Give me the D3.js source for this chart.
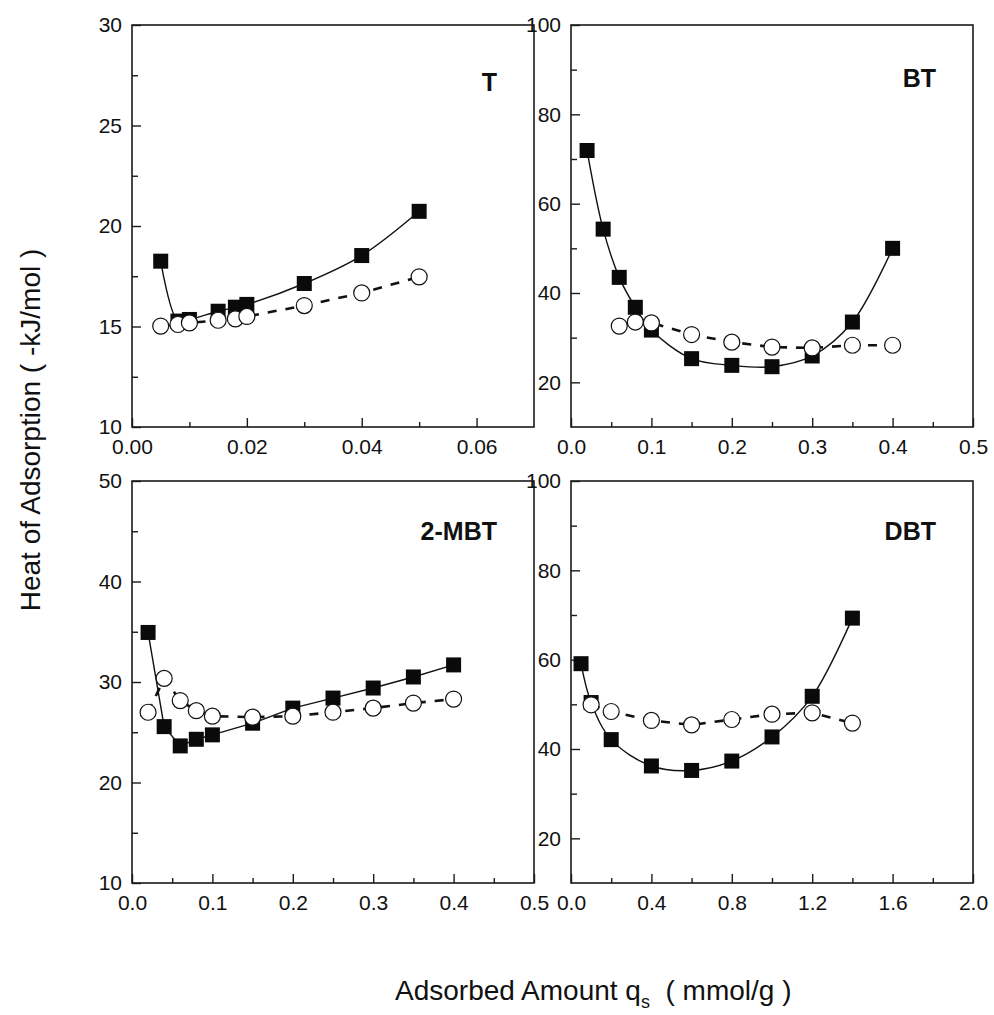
<!DOCTYPE html>
<html>
<head>
<meta charset="utf-8">
<script src="https://cdn.jsdelivr.net/npm/d3@7"></script>
<style>
  body { margin: 0; background: #fff; }
  svg { font-family: "Liberation Sans", Arial, sans-serif; }
  text { fill: #111; }
</style>
</head>
<body>
<svg id="svg" width="994" height="1015"></svg>
<script>
// T
const tX = [0.005, 0.008, 0.010, 0.015, 0.018, 0.020, 0.030, 0.040, 0.050]
const tSquare = [18.25, 15.27, 15.35, 15.76, 15.96, 16.1, 17.14, 18.53, 20.73]
const tCircleX = [0.005, 0.008, 0.010, 0.015, 0.018, 0.020, 0.030, 0.040, 0.050]
const tCircle = [15.02, 15.1, 15.18, 15.31, 15.38, 15.5, 16.04, 16.67, 17.47]

// BT
const btX = [0.02, 0.04, 0.06, 0.08, 0.10, 0.15, 0.20, 0.25, 0.30, 0.35, 0.40]
const btSquare = [71.9, 54.3, 43.5, 36.8, 31.7, 25.3, 23.8, 23.5, 25.9, 33.5, 50.0]
const btCircleX = [0.06, 0.08, 0.10, 0.15, 0.20, 0.25, 0.30, 0.35, 0.40]
const btCircle = [32.6, 33.5, 33.3, 30.7, 29.0, 27.9, 27.7, 28.3, 28.3]

// 2-MBT
const mbtX = [0.02, 0.04, 0.06, 0.08, 0.10, 0.15, 0.20, 0.25, 0.30, 0.35, 0.40]
const mbtSquare = [34.93, 25.56, 23.64, 24.3, 24.74, 25.9, 27.4, 28.4, 29.4, 30.5, 31.7]
const mbtCircleX = [0.02, 0.04, 0.06, 0.08, 0.10, 0.15, 0.20, 0.25, 0.30, 0.35, 0.40]
const mbtCircle = [26.99, 30.36, 28.15, 27.15, 26.6, 26.5, 26.6, 27.0, 27.4, 27.9, 28.3]

// DBT
const dbtX = [0.05, 0.1, 0.2, 0.4, 0.6, 0.8, 1.0, 1.2, 1.4]
const dbtSquare = [59.1, 50.4, 42.1, 36.2, 35.2, 37.3, 42.7, 51.8, 69.3]
const dbtCircleX = [0.1, 0.2, 0.4, 0.6, 0.8, 1.0, 1.2, 1.4]
const dbtCircle = [49.9, 48.4, 46.4, 45.4, 46.6, 47.8, 48.1, 45.8]

// axis ticks
const tXTicks = [0, 0.02, 0.04, 0.06]
const tXMinor = [0.01, 0.03, 0.05]
const tYTicks = [10, 15, 20, 25, 30]
const tYMinor = [12.5, 17.5, 22.5, 27.5]
const halfXTicks = [0, 0.1, 0.2, 0.3, 0.4, 0.5]
const halfXMinor = [0.05, 0.15, 0.25, 0.35, 0.45]
const hundredYTicks = [20, 40, 60, 80, 100]
const hundredYMinor = [30, 50, 70, 90]
const mbtYTicks = [10, 20, 30, 40, 50]
const mbtYMinor = [15, 25, 35, 45]
const dbtXTicks = [0, 0.4, 0.8, 1.2, 1.6, 2.0]
const dbtXMinor = [0.2, 0.6, 1.0, 1.4, 1.8]

const panels = [
  { name: 'T', left: 132, top: 25, xDomain: [0, 0.07], yDomain: [10, 30],
    xTicks: tXTicks, xMinor: tXMinor, xFmt: '.2f', yTicks: tYTicks, yMinor: tYMinor,
    sx: tX, sy: tSquare, cx: tCircleX, cy: tCircle, smooth: true, labelDy: 66 },
  { name: 'BT', left: 571, top: 25, xDomain: [0, 0.5], yDomain: [10, 100],
    xTicks: halfXTicks, xMinor: halfXMinor, xFmt: '.1f', yTicks: hundredYTicks, yMinor: hundredYMinor,
    sx: btX, sy: btSquare, cx: btCircleX, cy: btCircle, smooth: true, labelDy: 62 },
  { name: '2-MBT', left: 132, top: 481, xDomain: [0, 0.5], yDomain: [10, 50],
    xTicks: halfXTicks, xMinor: halfXMinor, xFmt: '.1f', yTicks: mbtYTicks, yMinor: mbtYMinor,
    sx: mbtX, sy: mbtSquare, cx: mbtCircleX, cy: mbtCircle, smooth: false, labelDy: 59 },
  { name: 'DBT', left: 571, top: 481, xDomain: [0, 2.0], yDomain: [10, 100],
    xTicks: dbtXTicks, xMinor: dbtXMinor, xFmt: '.1f', yTicks: hundredYTicks, yMinor: hundredYMinor,
    sx: dbtX, sy: dbtSquare, cx: dbtCircleX, cy: dbtCircle, smooth: true, labelDy: 59 }
]

const pw = 402
const ph = 402

const svg = d3.select('#svg')

panels.forEach(p => {
  const g = svg.append('g').attr('transform', `translate(${p.left}, ${p.top})`)

  const x = d3.scaleLinear().domain(p.xDomain).range([0, pw])
  const y = d3.scaleLinear().domain(p.yDomain).range([ph, 0])

  // frame
  g.append('rect')
    .attr('width', pw).attr('height', ph)
    .attr('fill', 'none').attr('stroke', '#1a1a1a').attr('stroke-width', 1.6)

  const styleAxis = sel => {
    sel.select('.domain').remove()
    sel.selectAll('line').attr('stroke', '#1a1a1a').attr('stroke-width', 1.4)
    sel.selectAll('text').attr('font-size', 21).attr('font-family', '"Liberation Sans", Arial, sans-serif').attr('fill', '#111')
  }

  g.append('g').attr('transform', `translate(0, ${ph})`)
    .call(d3.axisBottom(x).tickValues(p.xTicks).tickFormat(d3.format(p.xFmt)).tickSizeInner(-9).tickSizeOuter(0).tickPadding(12))
    .call(styleAxis)
  g.append('g').attr('transform', `translate(0, ${ph})`)
    .call(d3.axisBottom(x).tickValues(p.xMinor).tickFormat('').tickSizeInner(-5).tickSizeOuter(0))
    .call(styleAxis)
  g.append('g')
    .call(d3.axisLeft(y).tickValues(p.yTicks).tickFormat(d3.format('d')).tickSizeInner(-9).tickSizeOuter(0).tickPadding(10))
    .call(styleAxis)
  g.append('g')
    .call(d3.axisLeft(y).tickValues(p.yMinor).tickFormat('').tickSizeInner(-6).tickSizeOuter(0))
    .call(styleAxis)

  const squares = p.sx.map((v, i) => ({ x: v, y: p.sy[i] }))
  const circles = p.cx.map((v, i) => ({ x: v, y: p.cy[i] }))

  const solidLine = d3.line()
    .x(d => x(d.x)).y(d => y(d.y))
    .curve(p.smooth ? d3.curveCatmullRom.alpha(0.5) : d3.curveLinear)
  const dashLine = d3.line()
    .x(d => x(d.x)).y(d => y(d.y))

  g.append('path')
    .datum(squares)
    .attr('d', solidLine)
    .attr('fill', 'none').attr('stroke', '#111').attr('stroke-width', 1.4)

  g.append('path')
    .datum(circles)
    .attr('d', dashLine)
    .attr('fill', 'none').attr('stroke', '#111').attr('stroke-width', 2.6)
    .attr('stroke-dasharray', '9,9')

  const s = 15
  g.selectAll('rect.sq')
    .data(squares)
    .enter()
    .append('rect')
    .attr('class', 'sq')
    .attr('x', d => x(d.x) - s / 2)
    .attr('y', d => y(d.y) - s / 2)
    .attr('width', s).attr('height', s)
    .attr('fill', '#0a0a0a')

  g.selectAll('circle')
    .data(circles)
    .enter()
    .append('circle')
    .attr('cx', d => x(d.x))
    .attr('cy', d => y(d.y))
    .attr('r', 8)
    .attr('fill', '#fff').attr('stroke', '#111').attr('stroke-width', 1.2)

  g.append('text')
    .text(p.name)
    .attr('x', pw - 37)
    .attr('y', p.labelDy)
    .attr('text-anchor', 'end')
    .attr('font-size', 25)
    .attr('font-weight', 'bold')
})

// axis titles
svg.append('text')
  .attr('transform', 'translate(40, 430) rotate(-90)')
  .attr('text-anchor', 'middle')
  .attr('font-size', 28)
  .text('Heat of Adsorption ( -kJ/mol )')

const xt = svg.append('text')
  .attr('x', 395)
  .attr('y', 1000)
  .attr('font-size', 28)
  .style('white-space', 'pre')
xt.append('tspan').text('Adsorbed Amount q')
xt.append('tspan').text('s').attr('font-size', 18).attr('dy', 8)
xt.append('tspan').text('  ( mmol/g )').attr('dy', -8)
</script>
</body>
</html>
